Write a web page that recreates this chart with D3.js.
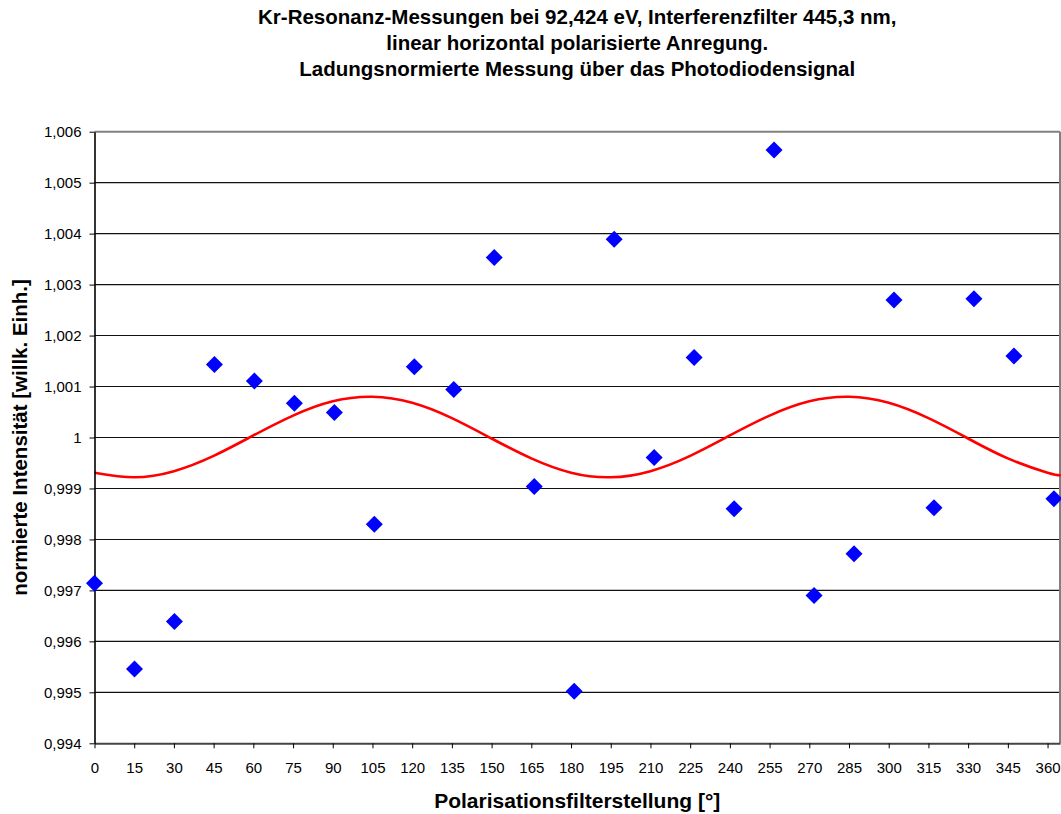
<!DOCTYPE html>
<html>
<head>
<meta charset="utf-8">
<script src="https://cdn.jsdelivr.net/npm/d3@7"></script>
<style>
  body { margin: 0; background: #fff; }
  text { font-family: "Liberation Sans", Arial, sans-serif; fill: #000; }
</style>
</head>
<body>
<script>
// measured points (angle in degrees, normalised intensity)
var angles = [0, 15.1, 30.2, 45.3, 60.4, 75.5, 90.6, 105.7, 120.8, 135.7, 151.0, 166.1, 181.2,
              196.3, 211.4, 226.5, 241.6, 256.7, 271.8, 286.9, 302.0, 317.1, 332.2, 347.3, 362.4];
var intensity = [0.99714, 0.99546, 0.99639, 1.00143, 1.00111, 1.00067, 1.00049, 0.99830, 1.00139,
                 1.00094, 1.00353, 0.99904, 0.99502, 1.00389, 0.99961, 1.00157, 0.99860, 1.00564,
                 0.99690, 0.99772, 1.00270, 0.99862, 1.00272, 1.00160, 0.99880];

// fit curve
var fitAngles = [0, 15, 30, 45, 60, 75, 90, 105, 120, 135, 150, 165, 180, 195, 210, 225,
                 240, 255, 270, 285, 300, 315, 330, 345, 360, 365];
var fitValues = [0.99931, 0.99922, 0.99934, 0.99964, 1.00004, 1.00043, 1.00071, 1.00080, 1.00068,
                 1.00038, 0.99998, 0.99959, 0.99931, 0.99922, 0.99934, 0.99964, 1.00004, 1.00043,
                 1.00071, 1.00080, 1.00068, 1.00038, 0.99998, 0.99959, 0.99931, 0.99926];

// axis ticks
var xTicks = [0, 15, 30, 45, 60, 75, 90, 105, 120, 135, 150, 165, 180, 195, 210, 225, 240,
              255, 270, 285, 300, 315, 330, 345, 360];
var yTicks = [0.994, 0.995, 0.996, 0.997, 0.998, 0.999, 1, 1.001, 1.002, 1.003, 1.004, 1.005, 1.006];
var yTickLabels = ["0,994", "0,995", "0,996", "0,997", "0,998", "0,999", "1",
                   "1,001", "1,002", "1,003", "1,004", "1,005", "1,006"];

var titleLines = ["Kr-Resonanz-Messungen bei 92,424 eV, Interferenzfilter 445,3 nm,",
                  "linear horizontal polarisierte Anregung.",
                  "Ladungsnormierte Messung über das Photodiodensignal"];

var W = 1061, H = 814;
var margin = {top: 131.7, right: 1, bottom: 70.7, left: 94.5},
    width = W - margin.left - margin.right,
    height = H - margin.top - margin.bottom;

var svg = d3.select("body").append("svg")
    .attr("width", W)
    .attr("height", H);

var g = svg.append("g")
    .attr("transform", "translate(" + margin.left + "," + margin.top + ")");

var x = d3.scaleLinear().domain([0, 364.7]).range([0, width]);
var y = d3.scaleLinear().domain([0.994, 1.006]).range([height, 0]);

// grid lines
g.selectAll(".grid")
    .data(yTicks.slice(1, -1))
  .enter().append("line")
    .attr("x1", 0)
    .attr("x2", width)
    .attr("y1", function(d) { return y(d); })
    .attr("y2", function(d) { return y(d); })
    .attr("stroke", "#111")
    .attr("stroke-width", 1.1);

// plot frame (top and right in grey)
g.append("line").attr("x1", 0).attr("x2", width).attr("y1", 0).attr("y2", 0)
    .attr("stroke", "#808080").attr("stroke-width", 2);
g.append("line").attr("x1", width).attr("x2", width).attr("y1", 0).attr("y2", height)
    .attr("stroke", "#808080").attr("stroke-width", 2);

// fit curve
var line = d3.line()
    .curve(d3.curveNatural)
    .x(function(d, i) { return x(fitAngles[i]); })
    .y(function(d) { return y(d); });

g.append("path")
    .datum(fitValues)
    .attr("fill", "none")
    .attr("stroke", "#ff0000")
    .attr("stroke-width", 2.6)
    .attr("d", line);

// axes
var xAxis = g.append("g")
    .attr("transform", "translate(0," + height + ")")
    .call(d3.axisBottom(x).tickValues(xTicks).tickSize(5).tickSizeOuter(0).tickPadding(14));
xAxis.select(".domain").attr("stroke", "#444").attr("stroke-width", 2);
xAxis.selectAll(".tick line").attr("stroke", "#000");
xAxis.selectAll("text").style("font-size", "15px").attr("font-family", null);

var yAxis = g.append("g")
    .call(d3.axisLeft(y).tickValues(yTicks).tickSize(5).tickSizeOuter(0).tickPadding(8)
        .tickFormat(function(d, i) { return yTickLabels[i]; }));
yAxis.select(".domain").attr("stroke", "#000").attr("stroke-width", 1.6);
yAxis.selectAll(".tick line").attr("stroke", "#000");
yAxis.selectAll("text").style("font-size", "15px").attr("font-family", null);

// data points
var diamond = "M0,-8.5L8.5,0L0,8.5L-8.5,0Z";
g.selectAll(".pt")
    .data(intensity)
  .enter().append("path")
    .attr("d", diamond)
    .attr("transform", function(d, i) { return "translate(" + x(angles[i]) + "," + y(d) + ")"; })
    .attr("fill", "#0000ff");

// titles
svg.selectAll(".title")
    .data(titleLines)
  .enter().append("text")
    .attr("x", margin.left + width / 2)
    .attr("y", function(d, i) { return 24 + i * 26; })
    .attr("text-anchor", "middle")
    .style("font-size", "20.5px")
    .style("font-weight", "bold")
    .text(function(d) { return d; });

svg.append("text")
    .attr("x", margin.left + width / 2)
    .attr("y", 808)
    .attr("text-anchor", "middle")
    .style("font-size", "21px")
    .style("font-weight", "bold")
    .text("Polarisationsfilterstellung [°]");

svg.append("text")
    .attr("transform", "translate(26.5," + (margin.top + height / 2) + ") rotate(-90)")
    .attr("text-anchor", "middle")
    .style("font-size", "20.5px")
    .style("font-weight", "bold")
    .text("normierte Intensität [willk. Einh.]");
</script>
</body>
</html>
